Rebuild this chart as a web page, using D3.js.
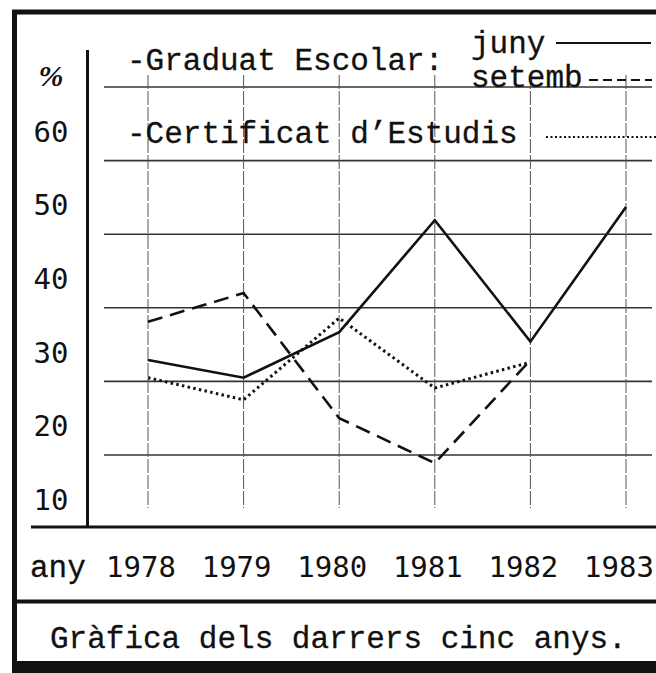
<html>
<head>
<script src="https://d3js.org/d3.v7.min.js"></script>
<style type="text/css">
  body { margin: 0; background: #fff; }
  svg text { fill: #111; }
  .type { font-family: "Liberation Mono", monospace; font-size: 31px; stroke: #111; stroke-width: 0.3px; }
  .num { font-family: "DejaVu Sans Mono", monospace; font-size: 29px; }
</style>
</head>
<body>
<svg id="chart" width="656" height="673"></svg>

<script>
// values (percent)
var years = [1978, 1979, 1980, 1981, 1982, 1983];
var juny = [27.9, 25.5, 31.7, 46.9, 30.4, 48.7];
var setembre = [33.1, 37.0, 20.0, 13.9, 27.9];      // 1978-1982
var certificat = [25.5, 22.5, 33.6, 24.1, 27.6];    // 1978-1982
var yLabels = [60, 50, 40, 30, 20, 10];
var gridValues = [65, 55, 45, 35, 25, 15];

var svg = d3.select("#chart");

var x = d3.scalePoint().domain(years).range([148, 626]);
var y = d3.scaleLinear().domain([15, 65]).range([455, 87]);

// frame
svg.append("line").attr("x1", 12).attr("x2", 656).attr("y1", 12).attr("y2", 12)
  .attr("stroke", "#111").attr("stroke-width", 5);
svg.append("line").attr("x1", 14.5).attr("x2", 14.5).attr("y1", 10).attr("y2", 673)
  .attr("stroke", "#111").attr("stroke-width", 5);
svg.append("rect").attr("x", 12).attr("y", 661).attr("width", 644).attr("height", 12).attr("fill", "#111");
svg.append("line").attr("x1", 14).attr("x2", 656).attr("y1", 601.5).attr("y2", 601.5)
  .attr("stroke", "#111").attr("stroke-width", 4);

// grid
svg.selectAll(".hgrid")
  .data(gridValues)
  .enter()
  .append("line")
    .attr("x1", 104).attr("x2", 652)
    .attr("y1", function(d){ return y(d); })
    .attr("y2", function(d){ return y(d); })
    .attr("stroke", "#333").attr("stroke-width", 1.6);

svg.selectAll(".vgrid")
  .data(years)
  .enter()
  .append("line")
    .attr("x1", function(d){ return x(d); })
    .attr("x2", function(d){ return x(d); })
    .attr("y1", 75).attr("y2", 508)
    .attr("stroke", "#555").attr("stroke-width", 1)
    .attr("stroke-dasharray", "14,2");

// axes
svg.append("line").attr("x1", 87.5).attr("x2", 87.5).attr("y1", 50).attr("y2", 527)
  .attr("stroke", "#111").attr("stroke-width", 3);
svg.append("line").attr("x1", 31).attr("x2", 656).attr("y1", 527).attr("y2", 527)
  .attr("stroke", "#111").attr("stroke-width", 3);

// y labels (typed a little below each grid line)
svg.selectAll(".ylab")
  .data(yLabels)
  .enter()
  .append("text")
    .attr("class", "num")
    .attr("x", 51)
    .attr("y", function(d){ return y(d) + 8; })
    .attr("text-anchor", "middle")
    .attr("dominant-baseline", "central")
    .text(function(d){ return d; });

svg.append("text")
  .attr("x", 51).attr("y", 86)
  .attr("text-anchor", "middle")
  .style("font-family", "Liberation Serif").style("font-size", "30px")
  .style("font-style", "italic").style("font-weight", "bold")
  .text("%");

// x labels
svg.append("text").attr("class", "type").attr("x", 30).attr("y", 577).text("any");
svg.selectAll(".xlab")
  .data(years)
  .enter()
  .append("text")
    .attr("class", "num")
    .attr("x", function(d){ return x(d) - 7; })
    .attr("y", 577)
    .attr("text-anchor", "middle")
    .text(function(d){ return d; });

// caption
svg.append("text").attr("class", "type").attr("x", 50).attr("y", 648)
  .text("Gràfica dels darrers cinc anys.");

// legend
svg.append("text").attr("class", "type").attr("x", 127).attr("y", 70).text("-Graduat Escolar:");
svg.append("text").attr("class", "type").attr("x", 471).attr("y", 53).text("juny");
svg.append("text").attr("class", "type").attr("x", 471).attr("y", 87).text("setemb");
svg.append("text").attr("class", "type").attr("x", 127).attr("y", 143).text("-Certificat d’Estudis");

svg.append("line").attr("x1", 556).attr("x2", 651).attr("y1", 43).attr("y2", 43)
  .attr("stroke", "#111").attr("stroke-width", 2);
svg.append("line").attr("x1", 589).attr("x2", 652).attr("y1", 80).attr("y2", 80)
  .attr("stroke", "#111").attr("stroke-width", 2).attr("stroke-dasharray", "9,5");
svg.append("line").attr("x1", 546).attr("x2", 656).attr("y1", 137).attr("y2", 137)
  .attr("stroke", "#111").attr("stroke-width", 2).attr("stroke-dasharray", "2,2.5");

// series
var line = d3.line()
  .x(function(d, i){ return x(years[i]); })
  .y(function(d){ return y(d); });

svg.append("path").datum(juny)
  .attr("d", line).attr("fill", "none")
  .attr("stroke", "#111").attr("stroke-width", 2.6);

svg.append("path").datum(setembre)
  .attr("d", line).attr("fill", "none")
  .attr("stroke", "#111").attr("stroke-width", 2.6)
  .attr("stroke-dasharray", "15,8");

svg.append("path").datum(certificat)
  .attr("d", line).attr("fill", "none")
  .attr("stroke", "#111").attr("stroke-width", 3)
  .attr("stroke-dasharray", "2.5,3.3");
</script>
</body>
</html>
